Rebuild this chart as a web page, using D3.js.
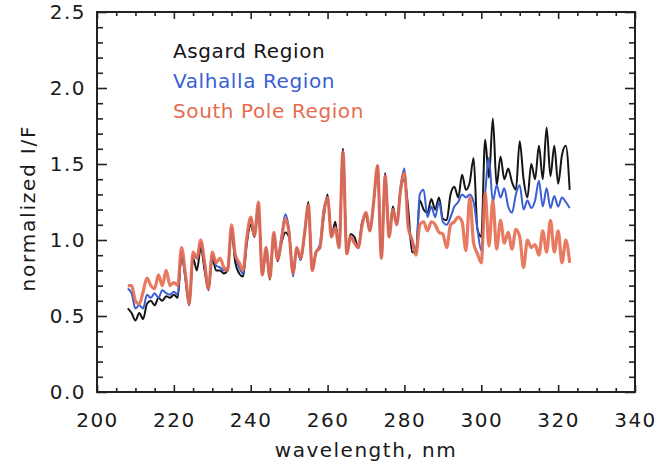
<!DOCTYPE html>
<html>
<head>
<meta charset="utf-8">
<script src="https://cdn.jsdelivr.net/npm/d3@7"></script>
<style>
  html, body { margin: 0; padding: 0; background: #ffffff; }
  svg text { font-family: "DejaVu Sans", sans-serif; }
</style>
</head>
<body>
<svg id="chart" width="657" height="466"></svg>
<script>
// ---- data ----
const wavelengths = [
  208,209,210,211,212,213,214,215,216,217,
  218,219,220,221,222,223,224,225,226,227,
  228,229,230,231,232,233,234,235,236,237,
  238,239,240,241,242,243,244,245,246,247,
  248,249,250,251,252,253,254,255,256,257,
  258,259,260,261,262,263,264,265,266,267,
  268,269,270,271,272,273,274,275,276,277,
  278,279,280,281,282,283,284,285,286,287,
  288,289,290,291,292,293,294,295,296,297,
  298,299,300,301,302,303,304,305,306,307,
  308,309,310,311,312,313,314,315,316,317,
  318,319,320,321,322,323
];
const asgard = [
  0.55,0.52,0.47,0.52,0.48,0.58,0.60,0.57,0.62,0.60,
  0.63,0.62,0.64,0.62,0.90,0.75,0.57,0.88,0.80,0.95,
  0.80,0.67,0.88,0.80,0.80,0.78,0.80,1.05,0.85,0.78,
  0.76,0.98,1.10,1.02,1.22,0.77,0.93,0.74,1.03,0.86,
  0.98,1.05,1.02,0.78,0.94,0.87,1.03,1.25,0.80,0.92,
  0.95,1.15,1.30,1.02,1.12,0.95,1.60,0.91,1.04,1.02,
  0.95,1.12,1.16,1.06,1.25,1.49,0.88,1.44,1.02,1.22,
  1.10,1.33,1.40,1.20,0.92,0.92,1.26,1.20,1.18,1.27,
  1.20,1.28,1.14,1.13,1.30,1.35,1.28,1.43,1.33,1.38,
  1.54,1.07,1.02,1.66,1.41,1.80,1.36,1.55,1.40,1.47,
  1.38,1.33,1.65,1.40,1.28,1.50,1.40,1.62,1.40,1.74,
  1.42,1.62,1.37,1.56,1.62,1.33
];
const valhalla = [
  0.68,0.65,0.55,0.57,0.55,0.64,0.62,0.65,0.62,0.67,
  0.65,0.64,0.66,0.64,0.92,0.75,0.58,0.90,0.88,0.98,
  0.85,0.68,0.90,0.83,0.82,0.80,0.82,1.08,0.90,0.82,
  0.78,1.00,1.14,1.04,1.24,0.77,0.95,0.76,1.05,0.88,
  1.02,1.17,1.06,0.76,0.95,0.87,1.05,1.22,0.80,0.92,
  0.97,1.20,1.27,1.05,1.08,0.95,1.57,0.91,1.02,0.98,
  0.95,1.10,1.18,1.06,1.25,1.48,0.88,1.42,1.02,1.20,
  1.10,1.35,1.47,1.10,1.00,0.92,1.30,1.33,1.15,1.22,
  1.15,1.25,1.12,1.10,1.15,1.22,1.25,1.30,1.28,1.30,
  1.25,1.07,0.93,1.30,1.54,1.25,1.36,1.28,1.34,1.22,
  1.18,1.30,1.36,1.20,1.26,1.21,1.26,1.39,1.22,1.34,
  1.21,1.29,1.22,1.28,1.25,1.21
];
const southPole = [
  0.70,0.70,0.60,0.58,0.66,0.75,0.70,0.68,0.77,0.70,
  0.80,0.70,0.72,0.70,0.95,0.78,0.58,0.92,0.88,1.00,
  0.85,0.68,0.92,0.85,0.88,0.82,0.80,1.10,0.90,0.85,
  0.80,1.02,1.15,1.03,1.25,0.77,0.95,0.75,1.05,0.87,
  1.00,1.14,1.04,0.78,0.95,0.88,1.04,1.23,0.80,0.92,
  0.95,1.18,1.28,1.02,1.08,0.95,1.58,0.91,1.02,0.98,
  0.95,1.10,1.18,1.06,1.25,1.49,0.88,1.42,1.02,1.20,
  1.10,1.33,1.44,1.08,1.00,0.90,1.10,1.12,1.06,1.12,
  1.10,1.05,1.04,0.95,1.10,1.12,1.15,1.12,0.93,1.28,
  0.98,0.91,0.85,1.31,0.96,1.26,0.94,1.13,0.98,1.05,
  0.94,1.07,1.02,0.82,1.00,0.95,0.97,0.90,1.06,0.92,
  1.13,0.92,1.06,0.85,1.00,0.85
];
const seriesNames = ["Asgard Region", "Valhalla Region", "South Pole Region"];
const seriesColors = ["#151515", "#3a5fd4", "#e66c50"];
const xMajorTicks = [200, 220, 240, 260, 280, 300, 320, 340];
const yMajorTicks = [0.0, 0.5, 1.0, 1.5, 2.0, 2.5];
const xTitle = "wavelength, nm";
const yTitle = "normalized I/F";

// ---- layout ----
const svg = d3.select("#chart");
const L = 97, R = 635, T = 12, B = 392;
const x = d3.scaleLinear().domain([200, 340]).range([L, R]);
const y = d3.scaleLinear().domain([0, 2.5]).range([B, T]);
const axisColor = "#222";

const xMinor = d3.range(0, 29).map(i => 200 + i * 5).filter(v => v % 20 !== 0);
const yMinor = d3.range(0, 26).filter(i => i % 5 !== 0).map(i => i / 10);

function styleAxis(g) {
  g.select(".domain").remove();
  g.selectAll(".tick line").attr("stroke", axisColor).attr("stroke-width", 1.6);
  g.selectAll("text").attr("fill", "#1a1a1a").style("font-size", "20px").style("letter-spacing", "1.5px");
}

// bottom
svg.append("g").attr("transform", `translate(0,${B})`)
  .call(d3.axisBottom(x).tickValues(xMajorTicks).tickSize(-7).tickPadding(21).tickFormat(d3.format("d")))
  .call(styleAxis);
svg.append("g").attr("transform", `translate(0,${B})`)
  .call(d3.axisBottom(x).tickValues(xMinor).tickSize(-4).tickFormat(""))
  .call(styleAxis);
// top
svg.append("g").attr("transform", `translate(0,${T})`)
  .call(d3.axisTop(x).tickValues(xMajorTicks).tickSize(-7).tickFormat(""))
  .call(styleAxis);
svg.append("g").attr("transform", `translate(0,${T})`)
  .call(d3.axisTop(x).tickValues(xMinor).tickSize(-4).tickFormat(""))
  .call(styleAxis);
// left
svg.append("g").attr("transform", `translate(${L},0)`)
  .call(d3.axisLeft(y).tickValues(yMajorTicks).tickSize(-10).tickPadding(11).tickFormat(d3.format(".1f")))
  .call(styleAxis);
svg.append("g").attr("transform", `translate(${L},0)`)
  .call(d3.axisLeft(y).tickValues(yMinor).tickSize(-6).tickFormat(""))
  .call(styleAxis);
// right
svg.append("g").attr("transform", `translate(${R},0)`)
  .call(d3.axisRight(y).tickValues(yMajorTicks).tickSize(-10).tickFormat(""))
  .call(styleAxis);
svg.append("g").attr("transform", `translate(${R},0)`)
  .call(d3.axisRight(y).tickValues(yMinor).tickSize(-6).tickFormat(""))
  .call(styleAxis);

// frame
svg.append("rect")
  .attr("x", L).attr("y", T).attr("width", R - L).attr("height", B - T)
  .attr("fill", "none").attr("stroke", axisColor).attr("stroke-width", 2);

// ---- lines ----
const seriesValues = [asgard, valhalla, southPole];
const widths = [2, 2, 3.2];
const line = d3.line().curve(d3.curveMonotoneX).x(d => x(d[0])).y(d => y(d[1]));
seriesValues.forEach((vals, i) => {
  svg.append("path")
    .datum(wavelengths.map((w, j) => [w, vals[j]]))
    .attr("d", line)
    .attr("fill", "none")
    .attr("stroke", seriesColors[i])
    .attr("stroke-width", widths[i])
    .attr("stroke-linejoin", "round")
    .attr("opacity", i === 2 ? 0.9 : 1);
});

// ---- legend ----
const legendY = [58, 88, 118];
seriesNames.forEach((name, i) => {
  svg.append("text")
    .attr("x", 173).attr("y", legendY[i])
    .attr("fill", seriesColors[i])
    .style("font-size", "20px").style("letter-spacing", "0.6px")
    .text(name);
});

// ---- titles ----
svg.append("text")
  .attr("x", (L + R) / 2).attr("y", 457)
  .attr("text-anchor", "middle")
  .attr("fill", "#1a1a1a")
  .style("font-size", "20px").style("letter-spacing", "1.5px")
  .text(xTitle);
svg.append("text")
  .attr("transform", "translate(35,208) rotate(-90)")
  .attr("text-anchor", "middle")
  .attr("fill", "#1a1a1a")
  .style("font-size", "20px").style("letter-spacing", "1.8px")
  .text(yTitle);
</script>
</body>
</html>
